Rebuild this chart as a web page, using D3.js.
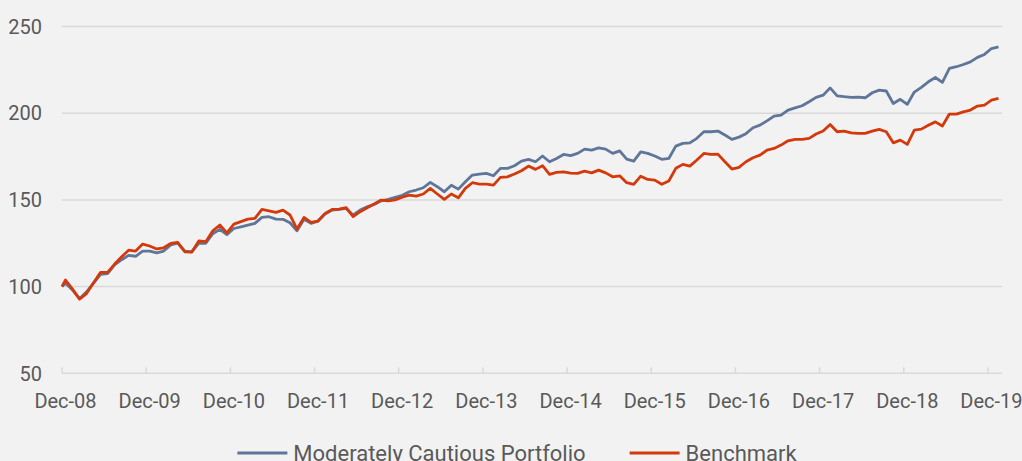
<!DOCTYPE html>
<html>
<head>
<meta charset="utf-8">
<script src="https://cdn.jsdelivr.net/npm/d3@7"></script>
<style>
  html, body { margin: 0; padding: 0; background: #f2f2f2; }
  svg { display: block; }
  text { font-family: Roboto, "Liberation Sans", sans-serif; fill: #595959; }
</style>
</head>
<body>
<div id="chart"></div>
<script>
// tick labels on the x axis (one per December)
var tickLabels = ['Dec-08', 'Dec-09', 'Dec-10', 'Dec-11', 'Dec-12', 'Dec-13',
                  'Dec-14', 'Dec-15', 'Dec-16', 'Dec-17', 'Dec-18', 'Dec-19'];
var yTicks = [50, 100, 150, 200, 250];

var seriesNames = ['Moderately Cautious Portfolio', 'Benchmark'];

// first value = inception base (100), then monthly values Dec-08 .. Jan-20
var portfolio = [100,
  102, 98, 93, 97, 102, 107, 107.5, 112.5, 115.5, 118, 117.5, 120.5, 120.5, 119.5, 120.5, 124, 125, 120.5, 120, 125, 125, 130.5, 133, 130, 133.5,
  134.5, 135.5, 136.5, 139.9, 140.3, 138.9, 138.8, 136.8, 132.2, 138.8, 136.5, 137.8, 141.8, 144.1, 144.5, 145.1, 141.3, 144.1, 146, 147.4, 149.5, 150.3, 151.5, 152.7,
  154.7, 155.7, 157, 160.1, 157.6, 154.7, 158.5, 156.2, 160.5, 164.3, 164.9, 165.3, 163.9, 168.2, 168.2, 169.7, 172.4, 173.4, 172, 175.3, 172, 173.9, 176.2, 175.5,
  176.8, 179.3, 178.7, 180, 179.3, 176.8, 178.3, 173.5, 172.4, 177.7, 176.8, 175.3, 173.4, 173.9, 181, 182.6, 182.9, 185.5, 189.3, 189.3, 189.7, 187.4, 184.9, 186.2,
  188.2, 191.6, 193.1, 195.6, 198.3, 198.9, 201.8, 203.1, 204.3, 206.6, 209.1, 210.4, 214.6, 210, 209.5, 209.1, 209.3, 208.9, 211.8, 213.3, 212.8, 205.6, 208, 205.1, 212.2,
  214.9, 218.1, 220.6, 217.8, 225.8, 226.8, 228.1, 229.6, 232.2, 233.9, 237.3, 238.3];

var benchmark = [100,
  103.8, 98.6, 92.8, 96, 102.2, 108.2, 108.2, 113, 117.2, 121, 120.5, 124.5, 123.4, 121.7, 122.4, 124.9, 125.5, 120.1, 119.9, 126.3, 125.9, 132.2, 135.5, 131, 136,
  137.5, 138.9, 139.3, 144.5, 143.7, 142.8, 144.1, 141.3, 133.2, 139.9, 137, 137.8, 142.2, 144.5, 144.7, 145.5, 140.3, 143.2, 145.5, 147.6, 149.9, 149.5, 150, 151.6,
  152.8, 152.2, 153.4, 156.6, 153.4, 150.3, 153.4, 151.2, 156.6, 159.9, 159.1, 159.1, 158.5, 163, 163.3, 164.9, 166.8, 169.5, 167.6, 169.7, 164.7, 165.9, 166.2, 165.4,
  165.3, 166.6, 165.6, 167.2, 165.6, 163.3, 163.9, 159.9, 159, 163.7, 161.8, 161.4, 159, 160.9, 168.2, 170.5, 169.5, 173, 176.8, 176.2, 176.4, 172, 167.8, 168.8,
  172, 174.3, 175.8, 178.7, 179.7, 181.6, 184.1, 184.9, 184.9, 185.5, 188, 189.7, 193.5, 189.3, 189.7, 188.7, 188.4, 188.4, 189.7, 190.7, 189.3, 182.9, 184.5, 182, 190.3,
  190.8, 193.1, 195, 192.6, 199.5, 199.5, 200.8, 201.8, 204.1, 204.7, 207.5, 208.5];

var colors = ['#5f7698', '#d3390b'];

(function() {
  var width = 1022, height = 461;
  var plotLeft = 62, plotRight = 1002, plotTop = 26.5, plotBottom = 373.3;
  var nMonths = 134;

  var svg = d3.select('#chart').append('svg')
    .attr('width', width)
    .attr('height', height);

  // month index scale: categories sit between tick marks
  var x = d3.scaleLinear().domain([-0.5, nMonths - 0.5]).range([plotLeft, plotRight]);
  var y = d3.scaleLinear().domain([50, 250]).range([plotBottom, plotTop]);

  // gridlines
  svg.append('g')
    .selectAll('line')
    .data(yTicks.slice(1))
    .enter().append('line')
    .attr('x1', plotLeft).attr('x2', plotRight)
    .attr('y1', function(d) { return y(d); })
    .attr('y2', function(d) { return y(d); })
    .attr('stroke', '#d9d9d9')
    .attr('stroke-width', 1.5);

  // y labels
  svg.append('g')
    .selectAll('text')
    .data(yTicks)
    .enter().append('text')
    .attr('x', 42)
    .attr('y', function(d) { return y(d); })
    .attr('dy', '0.36em')
    .attr('text-anchor', 'end')
    .style('font-size', '20px')
    .text(function(d) { return d; });

  // x axis line + inward ticks
  svg.append('line')
    .attr('x1', plotLeft).attr('x2', plotRight)
    .attr('y1', plotBottom).attr('y2', plotBottom)
    .attr('stroke', '#d9d9d9')
    .attr('stroke-width', 1.5);

  svg.append('g')
    .selectAll('line')
    .data(tickLabels)
    .enter().append('line')
    .attr('x1', function(d, i) { return x(i * 12 - 0.5); })
    .attr('x2', function(d, i) { return x(i * 12 - 0.5); })
    .attr('y1', plotBottom).attr('y2', plotBottom - 6)
    .attr('stroke', '#d9d9d9')
    .attr('stroke-width', 1.5);

  svg.append('g')
    .selectAll('text')
    .data(tickLabels)
    .enter().append('text')
    .attr('x', function(d, i) { return x(i * 12); })
    .attr('y', 408)
    .attr('text-anchor', 'middle')
    .style('font-size', '20px')
    .text(function(d) { return d; });

  // lines
  var line = d3.line()
    .x(function(d, i) { return x(i === 0 ? -0.5 : i - 1); })
    .y(function(d) { return y(d); });

  [portfolio, benchmark].forEach(function(s, k) {
    svg.append('path')
      .datum(s)
      .attr('d', line)
      .attr('fill', 'none')
      .attr('stroke', colors[k])
      .attr('stroke-width', 2.8)
      .attr('stroke-linejoin', 'round');
  });

  // legend (bottom, partly clipped like the original)
  var legend = svg.append('g');
  var lx = 0;
  seriesNames.forEach(function(name, k) {
    var g = legend.append('g').attr('transform', 'translate(' + lx + ',0)');
    g.append('line')
      .attr('x1', 0).attr('x2', 50)
      .attr('y1', 453).attr('y2', 453)
      .attr('stroke', colors[k])
      .attr('stroke-width', 3);
    var t = g.append('text')
      .attr('x', 56)
      .attr('y', 461)
      .style('font-size', '22px')
      .text(name);
    lx += 56 + t.node().getComputedTextLength() + 44;
  });
  var lw = lx - 44;
  legend.attr('transform', 'translate(' + (517 - lw / 2) + ',0)');
})();
</script>
</body>
</html>
